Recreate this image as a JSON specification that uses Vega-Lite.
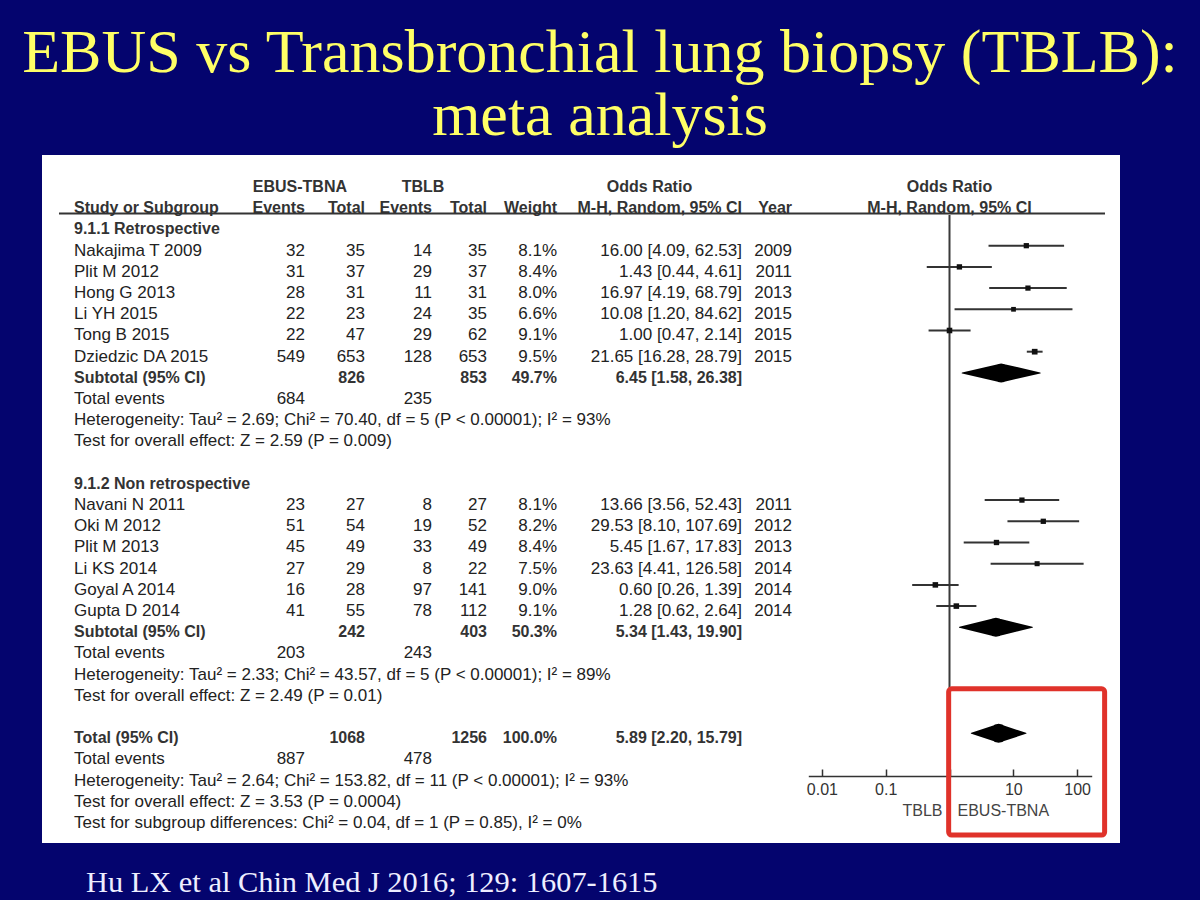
{
  "$schema": "https://vega.github.io/schema/vega-lite/v6.json",
  "width": 1078,
  "height": 688,
  "autosize": {"type": "none"},
  "padding": {"left": 42, "top": 155, "right": 80, "bottom": 57},
  "background": "#04046e",
  "config": {"view": {"fill": "white", "stroke": null}},
  "title": {
    "text": ["EBUS vs Transbronchial lung biopsy (TBLB):", "meta analysis"],
    "font": "Liberation Serif",
    "fontSize": 62,
    "fontWeight": "normal",
    "color": "#ffff66",
    "lineHeight": 63,
    "anchor": "middle",
    "dx": 19,
    "offset": 7
  },
  "datasets": {
    "cells": [
      {"r": 1, "c": 0, "t": "Study or Subgroup", "b": 1},
      {"r": 1, "c": 1, "t": "Events", "b": 1},
      {"r": 1, "c": 2, "t": "Total", "b": 1},
      {"r": 1, "c": 3, "t": "Events", "b": 1},
      {"r": 1, "c": 4, "t": "Total", "b": 1},
      {"r": 1, "c": 5, "t": "Weight", "b": 1},
      {"r": 1, "c": 6, "t": "M-H, Random, 95% CI", "b": 1},
      {"r": 1, "c": 7, "t": "Year", "b": 1},
      {"r": 2, "c": 0, "t": "9.1.1 Retrospective", "b": 1},
      {"r": 3, "c": 0, "t": "Nakajima T 2009"}, {"r": 3, "c": 1, "t": "32"}, {"r": 3, "c": 2, "t": "35"}, {"r": 3, "c": 3, "t": "14"}, {"r": 3, "c": 4, "t": "35"}, {"r": 3, "c": 5, "t": "8.1%"}, {"r": 3, "c": 6, "t": "16.00 [4.09, 62.53]"}, {"r": 3, "c": 7, "t": "2009"},
      {"r": 4, "c": 0, "t": "Plit M 2012"}, {"r": 4, "c": 1, "t": "31"}, {"r": 4, "c": 2, "t": "37"}, {"r": 4, "c": 3, "t": "29"}, {"r": 4, "c": 4, "t": "37"}, {"r": 4, "c": 5, "t": "8.4%"}, {"r": 4, "c": 6, "t": "1.43 [0.44, 4.61]"}, {"r": 4, "c": 7, "t": "2011"},
      {"r": 5, "c": 0, "t": "Hong G 2013"}, {"r": 5, "c": 1, "t": "28"}, {"r": 5, "c": 2, "t": "31"}, {"r": 5, "c": 3, "t": "11"}, {"r": 5, "c": 4, "t": "31"}, {"r": 5, "c": 5, "t": "8.0%"}, {"r": 5, "c": 6, "t": "16.97 [4.19, 68.79]"}, {"r": 5, "c": 7, "t": "2013"},
      {"r": 6, "c": 0, "t": "Li YH 2015"}, {"r": 6, "c": 1, "t": "22"}, {"r": 6, "c": 2, "t": "23"}, {"r": 6, "c": 3, "t": "24"}, {"r": 6, "c": 4, "t": "35"}, {"r": 6, "c": 5, "t": "6.6%"}, {"r": 6, "c": 6, "t": "10.08 [1.20, 84.62]"}, {"r": 6, "c": 7, "t": "2015"},
      {"r": 7, "c": 0, "t": "Tong B 2015"}, {"r": 7, "c": 1, "t": "22"}, {"r": 7, "c": 2, "t": "47"}, {"r": 7, "c": 3, "t": "29"}, {"r": 7, "c": 4, "t": "62"}, {"r": 7, "c": 5, "t": "9.1%"}, {"r": 7, "c": 6, "t": "1.00 [0.47, 2.14]"}, {"r": 7, "c": 7, "t": "2015"},
      {"r": 8, "c": 0, "t": "Dziedzic DA 2015"}, {"r": 8, "c": 1, "t": "549"}, {"r": 8, "c": 2, "t": "653"}, {"r": 8, "c": 3, "t": "128"}, {"r": 8, "c": 4, "t": "653"}, {"r": 8, "c": 5, "t": "9.5%"}, {"r": 8, "c": 6, "t": "21.65 [16.28, 28.79]"}, {"r": 8, "c": 7, "t": "2015"},
      {"r": 9, "c": 0, "t": "Subtotal (95% CI)", "b": 1}, {"r": 9, "c": 2, "t": "826", "b": 1}, {"r": 9, "c": 4, "t": "853", "b": 1}, {"r": 9, "c": 5, "t": "49.7%", "b": 1}, {"r": 9, "c": 6, "t": "6.45 [1.58, 26.38]", "b": 1},
      {"r": 10, "c": 0, "t": "Total events"}, {"r": 10, "c": 1, "t": "684"}, {"r": 10, "c": 3, "t": "235"},
      {"r": 11, "c": 0, "t": "Heterogeneity: Tau² = 2.69; Chi² = 70.40, df = 5 (P < 0.00001); I² = 93%"},
      {"r": 12, "c": 0, "t": "Test for overall effect: Z = 2.59 (P = 0.009)"},
      {"r": 14, "c": 0, "t": "9.1.2 Non retrospective", "b": 1},
      {"r": 15, "c": 0, "t": "Navani N 2011"}, {"r": 15, "c": 1, "t": "23"}, {"r": 15, "c": 2, "t": "27"}, {"r": 15, "c": 3, "t": "8"}, {"r": 15, "c": 4, "t": "27"}, {"r": 15, "c": 5, "t": "8.1%"}, {"r": 15, "c": 6, "t": "13.66 [3.56, 52.43]"}, {"r": 15, "c": 7, "t": "2011"},
      {"r": 16, "c": 0, "t": "Oki M 2012"}, {"r": 16, "c": 1, "t": "51"}, {"r": 16, "c": 2, "t": "54"}, {"r": 16, "c": 3, "t": "19"}, {"r": 16, "c": 4, "t": "52"}, {"r": 16, "c": 5, "t": "8.2%"}, {"r": 16, "c": 6, "t": "29.53 [8.10, 107.69]"}, {"r": 16, "c": 7, "t": "2012"},
      {"r": 17, "c": 0, "t": "Plit M 2013"}, {"r": 17, "c": 1, "t": "45"}, {"r": 17, "c": 2, "t": "49"}, {"r": 17, "c": 3, "t": "33"}, {"r": 17, "c": 4, "t": "49"}, {"r": 17, "c": 5, "t": "8.4%"}, {"r": 17, "c": 6, "t": "5.45 [1.67, 17.83]"}, {"r": 17, "c": 7, "t": "2013"},
      {"r": 18, "c": 0, "t": "Li KS 2014"}, {"r": 18, "c": 1, "t": "27"}, {"r": 18, "c": 2, "t": "29"}, {"r": 18, "c": 3, "t": "8"}, {"r": 18, "c": 4, "t": "22"}, {"r": 18, "c": 5, "t": "7.5%"}, {"r": 18, "c": 6, "t": "23.63 [4.41, 126.58]"}, {"r": 18, "c": 7, "t": "2014"},
      {"r": 19, "c": 0, "t": "Goyal A 2014"}, {"r": 19, "c": 1, "t": "16"}, {"r": 19, "c": 2, "t": "28"}, {"r": 19, "c": 3, "t": "97"}, {"r": 19, "c": 4, "t": "141"}, {"r": 19, "c": 5, "t": "9.0%"}, {"r": 19, "c": 6, "t": "0.60 [0.26, 1.39]"}, {"r": 19, "c": 7, "t": "2014"},
      {"r": 20, "c": 0, "t": "Gupta D 2014"}, {"r": 20, "c": 1, "t": "41"}, {"r": 20, "c": 2, "t": "55"}, {"r": 20, "c": 3, "t": "78"}, {"r": 20, "c": 4, "t": "112"}, {"r": 20, "c": 5, "t": "9.1%"}, {"r": 20, "c": 6, "t": "1.28 [0.62, 2.64]"}, {"r": 20, "c": 7, "t": "2014"},
      {"r": 21, "c": 0, "t": "Subtotal (95% CI)", "b": 1}, {"r": 21, "c": 2, "t": "242", "b": 1}, {"r": 21, "c": 4, "t": "403", "b": 1}, {"r": 21, "c": 5, "t": "50.3%", "b": 1}, {"r": 21, "c": 6, "t": "5.34 [1.43, 19.90]", "b": 1},
      {"r": 22, "c": 0, "t": "Total events"}, {"r": 22, "c": 1, "t": "203"}, {"r": 22, "c": 3, "t": "243"},
      {"r": 23, "c": 0, "t": "Heterogeneity: Tau² = 2.33; Chi² = 43.57, df = 5 (P < 0.00001); I² = 89%"},
      {"r": 24, "c": 0, "t": "Test for overall effect: Z = 2.49 (P = 0.01)"},
      {"r": 26, "c": 0, "t": "Total (95% CI)", "b": 1}, {"r": 26, "c": 2, "t": "1068", "b": 1}, {"r": 26, "c": 4, "t": "1256", "b": 1}, {"r": 26, "c": 5, "t": "100.0%", "b": 1}, {"r": 26, "c": 6, "t": "5.89 [2.20, 15.79]", "b": 1},
      {"r": 27, "c": 0, "t": "Total events"}, {"r": 27, "c": 1, "t": "887"}, {"r": 27, "c": 3, "t": "478"},
      {"r": 28, "c": 0, "t": "Heterogeneity: Tau² = 2.64; Chi² = 153.82, df = 11 (P < 0.00001); I² = 93%"},
      {"r": 29, "c": 0, "t": "Test for overall effect: Z = 3.53 (P = 0.0004)"},
      {"r": 30, "c": 0, "t": "Test for subgroup differences: Chi² = 0.04, df = 1 (P = 0.85), I² = 0%"}
    ],
    "hdr": [
      {"r": 0, "c": 0.978, "t": "EBUS-TBNA"},
      {"r": 0, "c": 2.866, "t": "TBLB"},
      {"r": 0, "c": 5.5, "t": "Odds Ratio"}
    ],
    "st": [
      {"r": 3, "or": 16.00, "lo": 4.09, "hi": 62.53, "wt": 8.1},
      {"r": 4, "or": 1.43, "lo": 0.44, "hi": 4.61, "wt": 8.4},
      {"r": 5, "or": 16.97, "lo": 4.19, "hi": 68.79, "wt": 8.0},
      {"r": 6, "or": 10.08, "lo": 1.20, "hi": 84.62, "wt": 6.6},
      {"r": 7, "or": 1.00, "lo": 0.47, "hi": 2.14, "wt": 9.1},
      {"r": 8, "or": 21.65, "lo": 16.28, "hi": 28.79, "wt": 9.5},
      {"r": 15, "or": 13.66, "lo": 3.56, "hi": 52.43, "wt": 8.1},
      {"r": 16, "or": 29.53, "lo": 8.10, "hi": 107.69, "wt": 8.2},
      {"r": 17, "or": 5.45, "lo": 1.67, "hi": 17.83, "wt": 8.4},
      {"r": 18, "or": 23.63, "lo": 4.41, "hi": 126.58, "wt": 7.5},
      {"r": 19, "or": 0.60, "lo": 0.26, "hi": 1.39, "wt": 9.0},
      {"r": 20, "or": 1.28, "lo": 0.62, "hi": 2.64, "wt": 9.1}
    ],
    "dm": [
      {"g": "s1", "r": 9, "or": 1.58, "h": 0},
      {"g": "s1", "r": 9, "or": 6.45, "h": 1},
      {"g": "s1", "r": 9, "or": 26.38, "h": 0},
      {"g": "s2", "r": 21, "or": 1.43, "h": 0},
      {"g": "s2", "r": 21, "or": 5.34, "h": 1},
      {"g": "s2", "r": 21, "or": 19.90, "h": 0},
      {"g": "tot", "r": 26, "or": 2.20, "h": 0},
      {"g": "tot", "r": 26, "or": 5.89, "h": 1},
      {"g": "tot", "r": 26, "or": 15.79, "h": 0}
    ]
  },
  "layer": [
    {
      "layer": [
        {
          "data": {"name": "cells"},
          "transform": [{"filter": "datum.c == 0 && !datum.b"}],
          "mark": {"type": "text", "align": "left", "baseline": "alphabetic", "dy": 10, "font": "Liberation Sans", "fontSize": 17, "color": "#222"},
          "encoding": {
            "x": {"field": "c", "type": "quantitative", "scale": {"domain": [0, 1, 2, 3, 4, 5, 6, 7], "range": [32, 263, 323, 390, 445, 515, 700, 750], "nice": false, "zero": false}, "axis": null},
            "y": {"field": "r", "type": "quantitative", "scale": {"domain": [-1.278, 31.175], "reverse": true, "nice": false, "zero": false}, "axis": null},
            "text": {"field": "t"}
          }
        },
        {
          "data": {"name": "cells"},
          "transform": [{"filter": "datum.c == 0 && datum.b"}],
          "mark": {"type": "text", "align": "left", "baseline": "alphabetic", "dy": 10, "font": "Liberation Sans", "fontSize": 16, "fontWeight": "bold", "color": "#333"},
          "encoding": {
            "x": {"field": "c", "type": "quantitative", "scale": {"domain": [0, 1, 2, 3, 4, 5, 6, 7], "range": [32, 263, 323, 390, 445, 515, 700, 750], "nice": false, "zero": false}, "axis": null},
            "y": {"field": "r", "type": "quantitative", "scale": {"domain": [-1.278, 31.175], "reverse": true, "nice": false, "zero": false}, "axis": null},
            "text": {"field": "t"}
          }
        },
        {
          "data": {"name": "cells"},
          "transform": [{"filter": "datum.c > 0 && !datum.b"}],
          "mark": {"type": "text", "align": "right", "baseline": "alphabetic", "dy": 10, "font": "Liberation Sans", "fontSize": 17, "color": "#222"},
          "encoding": {
            "x": {"field": "c", "type": "quantitative", "scale": {"domain": [0, 1, 2, 3, 4, 5, 6, 7], "range": [32, 263, 323, 390, 445, 515, 700, 750], "nice": false, "zero": false}, "axis": null},
            "y": {"field": "r", "type": "quantitative", "scale": {"domain": [-1.278, 31.175], "reverse": true, "nice": false, "zero": false}, "axis": null},
            "text": {"field": "t"}
          }
        },
        {
          "data": {"name": "cells"},
          "transform": [{"filter": "datum.c > 0 && datum.b"}],
          "mark": {"type": "text", "align": "right", "baseline": "alphabetic", "dy": 10, "font": "Liberation Sans", "fontSize": 16, "fontWeight": "bold", "color": "#333"},
          "encoding": {
            "x": {"field": "c", "type": "quantitative", "scale": {"domain": [0, 1, 2, 3, 4, 5, 6, 7], "range": [32, 263, 323, 390, 445, 515, 700, 750], "nice": false, "zero": false}, "axis": null},
            "y": {"field": "r", "type": "quantitative", "scale": {"domain": [-1.278, 31.175], "reverse": true, "nice": false, "zero": false}, "axis": null},
            "text": {"field": "t"}
          }
        },
        {
          "data": {"name": "hdr"},
          "mark": {"type": "text", "align": "center", "baseline": "alphabetic", "dy": 10, "font": "Liberation Sans", "fontSize": 16, "fontWeight": "bold", "color": "#333"},
          "encoding": {
            "x": {"field": "c", "type": "quantitative", "scale": {"domain": [0, 1, 2, 3, 4, 5, 6, 7], "range": [32, 263, 323, 390, 445, 515, 700, 750], "nice": false, "zero": false}, "axis": null},
            "y": {"field": "r", "type": "quantitative", "scale": {"domain": [-1.278, 31.175], "reverse": true, "nice": false, "zero": false}, "axis": null},
            "text": {"field": "t"}
          }
        },
        {
          "data": {"values": [{}]},
          "mark": {"type": "rule", "color": "#333", "strokeWidth": 2},
          "encoding": {
            "x": {"datum": -0.065, "type": "quantitative", "scale": {"domain": [0, 1, 2, 3, 4, 5, 6, 7], "range": [32, 263, 323, 390, 445, 515, 700, 750], "nice": false, "zero": false}, "axis": null},
            "x2": {"datum": 13.26},
            "y": {"datum": 1.48, "type": "quantitative", "scale": {"domain": [-1.278, 31.175], "reverse": true, "nice": false, "zero": false}, "axis": null}
          }
        },
        {
          "data": {"values": [{"t": "Hu LX et al Chin Med J 2016; 129: 1607-1615"}]},
          "mark": {"type": "text", "align": "left", "baseline": "alphabetic", "dy": 10, "font": "Liberation Serif", "fontSize": 30.4, "color": "#eeeeff"},
          "encoding": {
            "x": {"datum": 0.052, "type": "quantitative", "scale": {"domain": [0, 1, 2, 3, 4, 5, 6, 7], "range": [32, 263, 323, 390, 445, 515, 700, 750], "nice": false, "zero": false}, "axis": null},
            "y": {"datum": 33, "type": "quantitative", "scale": {"domain": [-1.278, 31.175], "reverse": true, "nice": false, "zero": false}, "axis": null},
            "text": {"field": "t"}
          }
        }
      ]
    },
    {
      "layer": [
        {
          "data": {"values": [{}]},
          "mark": {"type": "rule", "color": "#3a3a3a", "strokeWidth": 2},
          "encoding": {
            "x": {
              "datum": 1, "type": "quantitative",
              "scale": {"type": "log", "domain": [0.00612, 169.4], "range": [766.3, 1049.7], "nice": false},
              "axis": {
                "orient": "bottom", "offset": -67, "title": null, "grid": false,
                "values": [0.01, 0.1, 1, 10, 100], "format": "~g",
                "labelExpr": "datum.value == 1 ? '' : datum.label",
                "domainColor": "#333", "domainWidth": 1.5,
                "tickColor": "#333", "tickWidth": 1.5, "tickSize": -7,
                "labelFont": "Liberation Sans", "labelFontSize": 16, "labelColor": "#333",
                "labelPadding": 12, "labelFlush": false, "labelOverlap": false
              }
            },
            "y": {"datum": 1.55, "type": "quantitative", "scale": {"domain": [-1.278, 31.175], "reverse": true, "nice": false, "zero": false}, "axis": null},
            "y2": {"datum": 28}
          }
        },
        {
          "data": {"name": "st"},
          "mark": {"type": "rule", "color": "#333", "strokeWidth": 2},
          "encoding": {
            "x": {"field": "lo", "type": "quantitative"},
            "x2": {"field": "hi"},
            "y": {"field": "r", "type": "quantitative", "scale": {"domain": [-1.278, 31.175], "reverse": true, "nice": false, "zero": false}, "axis": null}
          }
        },
        {
          "data": {"name": "st"},
          "mark": {"type": "point", "shape": "square", "filled": true, "color": "#111", "opacity": 1},
          "encoding": {
            "x": {"field": "or", "type": "quantitative"},
            "y": {"field": "r", "type": "quantitative", "scale": {"domain": [-1.278, 31.175], "reverse": true, "nice": false, "zero": false}, "axis": null},
            "size": {"field": "wt", "type": "quantitative", "scale": {"domain": [0, 10], "range": [0, 34]}, "legend": null}
          }
        },
        {
          "data": {"name": "dm"},
          "mark": {"type": "trail", "color": "#000"},
          "encoding": {
            "x": {"field": "or", "type": "quantitative"},
            "y": {"field": "r", "type": "quantitative", "scale": {"domain": [-1.278, 31.175], "reverse": true, "nice": false, "zero": false}, "axis": null},
            "size": {"field": "h", "type": "quantitative", "scale": {"domain": [0, 1], "range": [0, 19]}, "legend": null},
            "detail": {"field": "g"}
          }
        },
        {
          "data": {"values": [{"r": 0, "t": "Odds Ratio"}, {"r": 1, "t": "M-H, Random, 95% CI"}]},
          "mark": {"type": "text", "align": "center", "baseline": "alphabetic", "dy": 10, "font": "Liberation Sans", "fontSize": 16, "fontWeight": "bold", "color": "#333"},
          "encoding": {
            "x": {"datum": 1, "type": "quantitative"},
            "y": {"field": "r", "type": "quantitative", "scale": {"domain": [-1.278, 31.175], "reverse": true, "nice": false, "zero": false}, "axis": null},
            "text": {"field": "t"}
          }
        },
        {
          "data": {"values": [{"t": "TBLB"}]},
          "mark": {"type": "text", "align": "right", "baseline": "alphabetic", "dy": 10, "dx": -7, "font": "Liberation Sans", "fontSize": 16, "color": "#444"},
          "encoding": {
            "x": {"datum": 1, "type": "quantitative"},
            "y": {"datum": 29.43, "type": "quantitative", "scale": {"domain": [-1.278, 31.175], "reverse": true, "nice": false, "zero": false}, "axis": null},
            "text": {"field": "t"}
          }
        },
        {
          "data": {"values": [{"t": "EBUS-TBNA"}]},
          "mark": {"type": "text", "align": "left", "baseline": "alphabetic", "dy": 10, "dx": 8, "font": "Liberation Sans", "fontSize": 16, "color": "#444"},
          "encoding": {
            "x": {"datum": 1, "type": "quantitative"},
            "y": {"datum": 29.43, "type": "quantitative", "scale": {"domain": [-1.278, 31.175], "reverse": true, "nice": false, "zero": false}, "axis": null},
            "text": {"field": "t"}
          }
        },
        {
          "data": {"values": [{}]},
          "mark": {"type": "rect", "fill": "white", "fillOpacity": 0, "stroke": "#e0322a", "strokeWidth": 5, "cornerRadius": 3},
          "encoding": {
            "x": {"datum": 0.97, "type": "quantitative"},
            "x2": {"datum": 270},
            "y": {"datum": 23.9, "type": "quantitative", "scale": {"domain": [-1.278, 31.175], "reverse": true, "nice": false, "zero": false}, "axis": null},
            "y2": {"datum": 30.8}
          }
        }
      ],
      "resolve": {"scale": {"size": "independent"}}
    }
  ],
  "resolve": {"scale": {"x": "independent"}}
}
